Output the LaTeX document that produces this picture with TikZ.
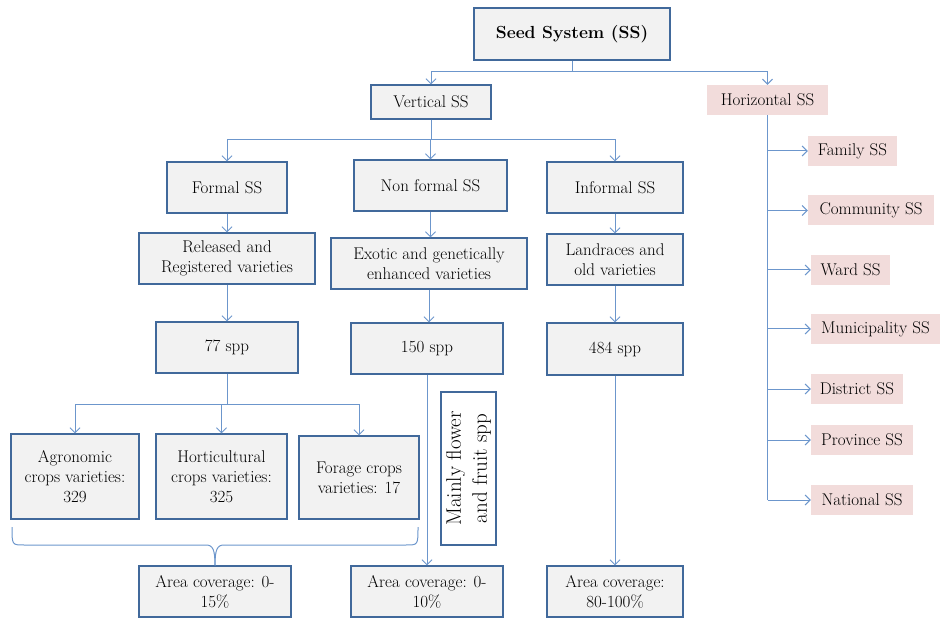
\documentclass[tikz,border=0pt]{standalone}
\usetikzlibrary{arrows.meta}
\definecolor{bordc}{HTML}{41699B}
\definecolor{linec}{HTML}{6C96CC}
\definecolor{fillc}{HTML}{F2F2F2}
\definecolor{pinkc}{HTML}{F2DCDB}
\newcommand\fsn{\fontsize{17}{20}\selectfont}
\newcommand\fsbig{\fontsize{17.5}{21}\selectfont\bfseries}
\newcommand\fsrot{\fontsize{21}{26}\selectfont}
\tikzset{
  bx/.style={draw=bordc, fill=fillc, line width=1.1pt, align=center, inner sep=0pt, font=\fsn},
  pk/.style={fill=pinkc, inner sep=0pt, align=center, font=\fsn},
  con/.style={draw=linec, line width=1pt},
  arr/.style={con, -{Straight Barb[length=5pt,width=10pt]}},
}
\begin{document}
\begin{tikzpicture}[x=1pt,y=-1pt]
\useasboundingbox (0,0) rectangle (940,620);
% nodes
\node[bx, font=\fsbig, minimum width=196, minimum height=52] (ss) at (572,34) {Seed System (SS)};
\node[bx, minimum width=120, minimum height=34] (vert) at (431,102) {Vertical SS};
\node[pk, minimum width=121, minimum height=30] (horiz) at (767.5,100) {Horizontal SS};
\node[bx, minimum width=120, minimum height=51] (formal) at (227,187.5) {Formal SS};
\node[bx, minimum width=153, minimum height=51] (nonformal) at (430.5,185.5) {Non formal SS};
\node[bx, minimum width=136, minimum height=51] (informal) at (615,187.5) {Informal SS};
\node[bx, minimum width=176, minimum height=51] (released) at (227,258.5) {Released and\\Registered varieties};
\node[bx, minimum width=196, minimum height=51] (exotic) at (429,263.5) {Exotic and genetically\\enhanced varieties};
\node[bx, minimum width=136, minimum height=51] (landraces) at (615,259.5) {Landraces and\\old varieties};
\node[bx, minimum width=142, minimum height=51] (s77) at (227,347.5) {77 spp};
\node[bx, minimum width=152, minimum height=51] (s150) at (427,348.5) {150 spp};
\node[bx, minimum width=136, minimum height=52] (s484) at (615,349) {484 spp};
\node[bx, minimum width=128, minimum height=85] (agro) at (75,476.5) {Agronomic\\crops varieties:\\329};
\node[bx, minimum width=131, minimum height=85] (horti) at (221.5,476.5) {Horticultural\\crops varieties:\\325};
\node[bx, minimum width=120, minimum height=83] (forage) at (359,477.5) {Forage crops\\varieties: 17};
\node[draw=bordc, fill=white, line width=1.1pt, inner sep=0pt, align=center, font=\fsrot,
      minimum width=153, minimum height=55, rotate=90] (mainly) at (468.5,468.5) {Mainly flower\\and fruit spp};
\node[bx, minimum width=152, minimum height=51] (a15) at (215,591.5) {Area coverage: 0-\\15\%};
\node[bx, minimum width=152, minimum height=51] (a10) at (427,591.5) {Area coverage: 0-\\10\%};
\node[bx, minimum width=136, minimum height=51] (a80) at (615,591.5) {Area coverage:\\80-100\%};
% horizontal column
\node[pk, minimum width=89, minimum height=30] (family) at (852.5,151) {Family SS};
\node[pk, minimum width=126, minimum height=30] (community) at (871,210.5) {Community SS};
\node[pk, minimum width=79, minimum height=30] (ward) at (850.5,270) {Ward SS};
\node[pk, minimum width=129, minimum height=30] (municipality) at (875.5,329) {Municipality SS};
\node[pk, minimum width=92, minimum height=30] (district) at (857,389) {District SS};
\node[pk, minimum width=102, minimum height=30] (province) at (862,440) {Province SS};
\node[pk, minimum width=102, minimum height=30] (national) at (862,500) {National SS};
% connectors top
\coordinate (j1) at (572,72);
\draw[con] (ss.south) -- (j1);
\draw[arr] (j1) -| (vert.north);
\draw[arr] (j1) -| (horiz.north);
\coordinate (j2) at (431,140);
\draw[con] (vert.south) -- (j2);
\draw[arr] (j2) -| (formal.north);
\draw[arr] (j2) -| (nonformal.north);
\draw[arr] (j2) -| (informal.north);
\draw[arr] (formal.south) -- (released.north);
\draw[arr] (nonformal.south) -- (nonformal.south |- exotic.north);
\draw[arr] (informal.south) -- (landraces.north);
\draw[arr] (released.south) -- (s77.north);
\draw[arr] (exotic.south) -- (exotic.south |- s150.north);
\draw[arr] (landraces.south) -- (s484.north);
\coordinate (j3) at (227,404);
\draw[con] (s77.south) -- (j3);
\draw[arr] (j3) -| (agro.north);
\draw[arr] (j3) -| (horti.north);
\draw[arr] (j3) -| (forage.north);
\draw[arr] (s150.south) -- (a10.north);
\draw[arr] (s484.south) -- (a80.north);
% brace
\coordinate (bl) at (12,527);
\coordinate (br) at (418,527);
\draw[con] (bl) .. controls (12,545) .. (24,545) -- (206,545)
  .. controls (213,545) and (215,550) .. (a15.north);
\draw[con] (br) .. controls (418,545) .. (406,545) -- (224,545)
  .. controls (217,545) and (215,550) .. (a15.north);
% horizontal SS column
\coordinate (hb) at (768,500);
\draw[con] (horiz.south) -- (horiz.south |- hb);
\foreach \n in {family,community,ward,municipality,district,province,national}
  \draw[arr] (horiz.south |- \n.west) -- (\n.west);
\end{tikzpicture}
\end{document}
